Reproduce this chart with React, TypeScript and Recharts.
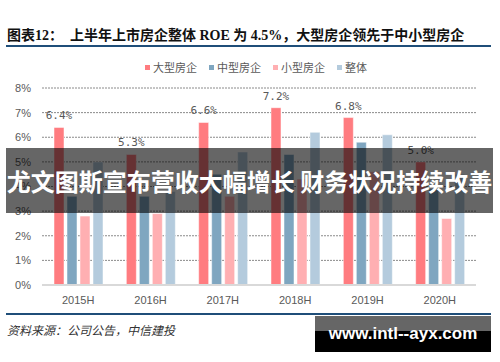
import React from "react";
import { BarChart, Bar, XAxis, YAxis, CartesianGrid, LabelList } from "recharts";

const periods = ["2015H", "2016H", "2017H", "2018H", "2019H", "2020H"];
const large = [6.4, 5.3, 6.6, 7.2, 6.8, 5.0];
const medium = [3.6, 3.6, 4.5, 5.3, 5.8, 3.9];
const small = [2.8, 2.9, 3.6, 4.3, 4.6, 2.7];
const overall = [5.0, 3.8, 5.4, 6.2, 6.1, 4.5];
const yTicks = [0, 1, 2, 3, 4, 5, 6, 7, 8];

const SERIES = [
  { key: "大型房企", color: "#ff7c80" },
  { key: "中型房企", color: "#7fa6c0" },
  { key: "小型房企", color: "#ffafb2" },
  { key: "整体", color: "#b4cbdd" },
];

const data = periods.map((p, i) => ({
  period: p,
  大型房企: large[i],
  中型房企: medium[i],
  小型房企: small[i],
  整体: overall[i],
}));

const SANS = "'Liberation Sans', Arial, 'Noto Sans CJK SC', sans-serif";
const CJK = "'Noto Sans CJK SC', sans-serif";

export default function App() {
  return (
    <div
      style={{
        position: "absolute",
        left: 0,
        top: 0,
        width: 500,
        height: 362,
        background: "#fff",
        overflow: "hidden",
        fontFamily: SANS,
      }}
    >
      <div
        style={{
          position: "absolute",
          left: 7,
          top: 24,
          fontSize: 14,
          fontWeight: 700,
          whiteSpace: "nowrap",
          color: "#111",
          fontFamily: "'Liberation Serif', 'Noto Sans CJK SC', serif",
        }}
      >
        图表12：&nbsp;&nbsp;上半年上市房企整体 ROE 为 4.5%，大型房企领先于中小型房企
      </div>
      <div style={{ position: "absolute", left: 6, top: 45, width: 485, height: 2, background: "#1f4e79" }} />

      <div
        style={{
          position: "absolute",
          left: 0,
          top: 59,
          width: 500,
          display: "flex",
          justifyContent: "center",
          gap: 12,
          fontSize: 11,
          color: "#595959",
          fontFamily: CJK,
          paddingLeft: 6,
        }}
      >
        {SERIES.map((s) => (
          <span key={s.key} style={{ display: "flex", alignItems: "center", gap: 3 }}>
            <span style={{ display: "inline-block", width: 5, height: 5, background: s.color }} />
            {s.key}
          </span>
        ))}
      </div>

      <div style={{ position: "absolute", left: 0, top: 0 }}>
        <BarChart
          width={500}
          height={320}
          data={data}
          margin={{ top: 88, right: 24, left: 8, bottom: 10 }}
          barSize={10}
          barGap={3}
        >
          <CartesianGrid vertical={false} stroke="#8a8a8a" strokeDasharray="2 1" />
          <XAxis
            dataKey="period"
            height={25}
            tickLine={false}
            axisLine={{ stroke: "#d9d9d9", strokeWidth: 2 }}
            tick={{ fill: "#595959", fontSize: 11, fontFamily: SANS }}
            tickMargin={5}
          />
          <YAxis
            width={34}
            domain={[0, 8]}
            ticks={yTicks}
            interval={0}
            axisLine={false}
            tickLine={false}
            tickMargin={5}
            tickFormatter={(v) => `${v}%`}
            tick={{ fill: "#595959", fontSize: 11, fontFamily: SANS }}
          />
          {SERIES.map((s, idx) => (
            <Bar key={s.key} dataKey={s.key} fill={s.color} stroke="#fff" strokeWidth={0.5} isAnimationActive={false}>
              {idx === 0 && (
                <LabelList
                  dataKey={s.key}
                  position="top"
                  offset={8}
                  formatter={(v: number) => `${v.toFixed(1)}%`}
                  style={{ fill: "#595959", fontSize: 11, fontFamily: "'DejaVu Sans Mono', monospace" }}
                />
              )}
            </Bar>
          ))}
        </BarChart>
      </div>

      <div style={{ position: "absolute", left: 6, top: 313, width: 485, height: 2, background: "#1f4e79" }} />
      <div
        style={{
          position: "absolute",
          left: 7,
          top: 321,
          fontSize: 12,
          fontStyle: "italic",
          color: "#333",
          fontFamily: CJK,
          whiteSpace: "nowrap",
        }}
      >
        资料来源：公司公告，中信建投
      </div>

      <div
        style={{
          position: "absolute",
          left: 6,
          top: 148,
          width: 487,
          height: 65,
          background: "rgba(0,0,0,0.6)",
          color: "#fff",
          fontFamily: CJK,
          fontWeight: 700,
          fontSize: 24,
          lineHeight: "65px",
          textAlign: "center",
          whiteSpace: "nowrap",
        }}
      >
        尤文图斯宣布营收大幅增长 财务状况持续改善
      </div>

      <div
        style={{
          position: "absolute",
          left: 315,
          top: 316,
          width: 176,
          height: 36,
          background: "linear-gradient(#666 0%, #666 42%, #000 42%, #000 100%)",
          color: "#fff",
          fontFamily: SANS,
          fontWeight: 700,
          fontSize: 17,
          lineHeight: "36px",
          textAlign: "center",
          whiteSpace: "nowrap",
        }}
      >
        www.intl--ayx.com
      </div>
    </div>
  );
}
